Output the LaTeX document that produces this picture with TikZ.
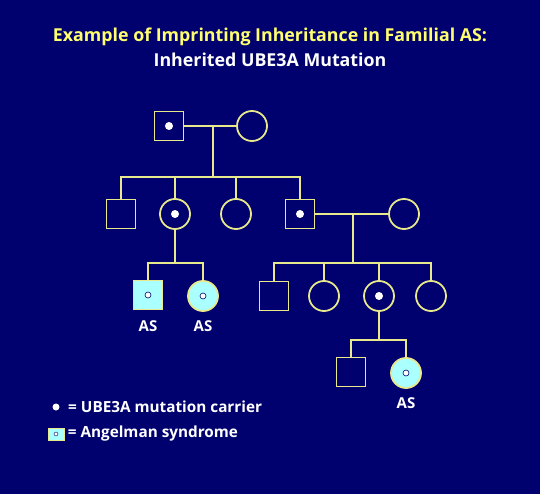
\documentclass[tikz,border=0pt]{standalone}
\usepackage{fontspec}
\setmainfont{Open Sans}
\usepackage{tikz}
\usetikzlibrary{positioning}

\definecolor{navybg}{RGB}{0,0,110}
\definecolor{pedline}{RGB}{232,232,140}
\definecolor{titleyellow}{RGB}{255,255,110}
\definecolor{affcyan}{RGB}{170,255,255}

\tikzset{
  male/.style={draw=pedline, line width=1.8pt, rectangle, minimum size=29pt, inner sep=0pt},
  female/.style={draw=pedline, line width=1.8pt, circle, minimum size=30pt, inner sep=0pt},
  affected/.style={fill=affcyan},
  carrierdot/.style={fill=white, circle, minimum size=8pt, inner sep=0pt},
  affdot/.style={fill=white, draw=navybg, line width=0.6pt, circle, minimum size=6pt, inner sep=0pt},
  kin/.style={draw=pedline, line width=1.8pt},
  lbl/.style={text=white, font=\bfseries\fontsize{15}{17}\selectfont}
}

\begin{document}
\begin{tikzpicture}[x=1pt,y=-1pt]
	\fill[navybg] (0,0) rectangle (540,494);
	\useasboundingbox (0,0) rectangle (540,494);

	\node[text=titleyellow, font=\bfseries\fontsize{17.8}{20}\selectfont, anchor=base] (title1) at (270,42) {Example of Imprinting Inheritance in Familial AS:};
	\node[text=white, font=\bfseries\fontsize{17.8}{20}\selectfont, anchor=base] (title2) at (270,67) {Inherited UBE3A Mutation};

	\node[male] (gf) at (169,126) {};
	\node[carrierdot] at (gf) {};
	\node[female] (gm) at (252,126) {};

	\node[male] (s1) at (121,214) {};
	\node[female] (d2) at (175,214) {};
	\node[carrierdot] at (d2) {};
	\node[female] (d3) at (236,214) {};
	\node[male] (s4) at (300,214) {};
	\node[carrierdot] at (s4) {};
	\node[female] (sp) at (404,214) {};

	\node[male, affected] (a1) at (148,295) {};
	\node[affdot] at (a1) {};
	\node[female, affected] (a2) at (203,296) {};
	\node[affdot] at (a2) {};
	\node[lbl, anchor=base] (as1) at (148,331) {AS};
	\node[lbl, anchor=base] (as2) at (203,331) {AS};

	\node[male] (c1) at (274,296) {};
	\node[female] (c2) at (324,296) {};
	\node[female] (c3) at (379,296) {};
	\node[carrierdot] at (c3) {};
	\node[female] (c4) at (431,296) {};

	\node[male] (g1) at (351,372) {};
	\node[female, affected] (g2) at (406,373) {};
	\node[affdot] at (g2) {};
	\node[lbl, anchor=base] (as3) at (406,408) {AS};

	\coordinate (m1) at (213,126);
	\coordinate (k1) at (213,177);
	\coordinate (m2) at (353,214);
	\coordinate (k2) at (353,263);
	\coordinate (k3) at (175,263);
	\coordinate (k4) at (379,340);

	\draw[kin] (gf) -- (gm);
	\draw[kin] (m1) -- (k1);
	\draw[kin] (s1.north) |- (k1) -| (s4.north);
	\draw[kin] (d2.north) -- (d2.north |- k1);
	\draw[kin] (d3.north) -- (d3.north |- k1);

	\draw[kin] (s4) -- (sp);
	\draw[kin] (m2) -- (k2);
	\draw[kin] (c1.north) |- (k2) -| (c4.north);
	\draw[kin] (c2.north) -- (c2.north |- k2);
	\draw[kin] (c3.north) -- (c3.north |- k2);

	\draw[kin] (d2.south) -- (k3);
	\draw[kin] (a1.north) |- (k3) -| (a2.north);

	\draw[kin] (c3.south) -- (k4);
	\draw[kin] (g1.north) |- (k4) -| (g2.north);

	\node[carrierdot, minimum size=7pt] (legdot) at (56,407) {};
	\node[lbl, font=\bfseries\fontsize{15.3}{17}\selectfont, anchor=west, right=5pt of legdot] (legtext1) {= UBE3A mutation carrier};
	\node[draw=pedline, line width=0.6pt, fill=affcyan, minimum width=16pt, minimum height=12pt, inner sep=0pt] (legbox) at (56,434) {};
	\node[affdot, minimum size=4pt, line width=0.4pt] at (legbox) {};
	\node[lbl, font=\bfseries\fontsize{15.3}{17}\selectfont, anchor=west] (legtext2) at (legbox.east) {= Angelman syndrome};
\end{tikzpicture}
\end{document}
